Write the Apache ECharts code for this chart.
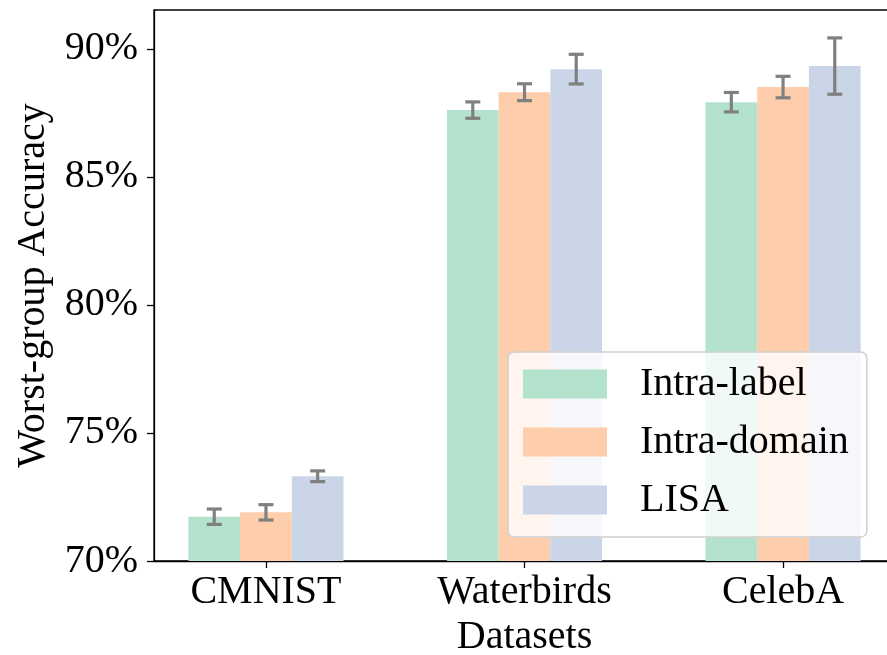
<!DOCTYPE html>
<html>
<head>
<meta charset="utf-8">
<script src="https://cdn.jsdelivr.net/npm/echarts@6/dist/echarts.min.js"></script>
<style>html,body{margin:0;padding:0;background:#fff;}#chart{width:887px;height:655px;}</style>
</head>
<body>
<div id="chart"></div>
<script>
const categories = ['CMNIST', 'Waterbirds', 'CelebA'];
const methods = ['Intra-label', 'Intra-domain', 'LISA'];
const colors = ['#b3e2cd', '#fdcdac', '#cbd5e8'];
const intraLabel = [71.73, 87.61, 87.92];
const intraLabelErr = [0.30, 0.32, 0.38];
const intraDomain = [71.90, 88.31, 88.51];
const intraDomainErr = [0.30, 0.33, 0.42];
const lisa = [73.31, 89.21, 89.33];
const lisaErr = [0.21, 0.58, 1.10];
const yTicks = [70, 75, 80, 85, 90];

const values = [intraLabel, intraDomain, lisa];
const errs = [intraLabelErr, intraDomainErr, lisaErr];
const barW = 0.2;
const offsets = [-0.2, 0, 0.2];
const FONT = "'Liberation Serif', 'Times New Roman', serif";

const series = methods.map((name, s) => ({
  name: name,
  type: 'custom',
  itemStyle: { color: colors[s] },
  data: categories.map((c, i) => [i + offsets[s], values[s][i], errs[s][i]]),
  encode: { x: 0, y: 1 },
  renderItem: function (params, api) {
    const x = api.value(0), y = api.value(1), e = api.value(2);
    const w = api.size([barW, 0])[0];
    const top = api.coord([x, y]);
    const base = api.coord([x, 70]);
    const eTop = api.coord([x, y + e]);
    const eBot = api.coord([x, y - e]);
    const cap = 7.5;
    const lineStyle = { stroke: '#808080', lineWidth: 3.2 };
    return {
      type: 'group',
      children: [
        { type: 'rect', shape: { x: top[0] - w / 2, y: top[1], width: w, height: base[1] - top[1] },
          style: { fill: colors[s] } },
        { type: 'line', shape: { x1: eTop[0], y1: eTop[1], x2: eBot[0], y2: eBot[1] }, style: lineStyle, z2: 10 },
        { type: 'line', shape: { x1: eTop[0] - cap, y1: eTop[1], x2: eTop[0] + cap, y2: eTop[1] }, style: lineStyle, z2: 10 },
        { type: 'line', shape: { x1: eBot[0] - cap, y1: eBot[1], x2: eBot[0] + cap, y2: eBot[1] }, style: lineStyle, z2: 10 }
      ]
    };
  }
}));

const chart = echarts.init(document.getElementById('chart'), null, { renderer: 'canvas' });
chart.setOption({
  animation: false,
  backgroundColor: '#fff',
  textStyle: { fontFamily: FONT },
  grid: { left: 154, right: -8, top: 10, bottom: 94, containLabel: false, outerBoundsMode: 'none',
    show: true, borderColor: '#000', borderWidth: 1.3, backgroundColor: 'transparent' },
  xAxis: {
    type: 'value', min: -0.433, max: 2.433,
    axisLine: { show: true, onZero: false, lineStyle: { color: '#000', width: 1.3 } },
    axisTick: { show: true, length: 7, lineStyle: { color: '#000', width: 1.3 }, customValues: [0, 1, 2] },
    axisLabel: { customValues: [0, 1, 2], formatter: v => categories[Math.round(v)], fontSize: 40, color: '#000', fontFamily: FONT, margin: 11 },
    splitLine: { show: false },
    name: 'Datasets', nameLocation: 'middle', nameGap: 56,
    nameTextStyle: { fontSize: 40, color: '#000', fontFamily: FONT }
  },
  yAxis: {
    type: 'value', min: 70, max: 91.52,
    axisLine: { show: true, onZero: false, lineStyle: { color: '#000', width: 1.3 } },
    axisTick: { show: true, length: 7, lineStyle: { color: '#000', width: 1.3 }, customValues: yTicks },
    axisLabel: { customValues: yTicks, formatter: v => v + '%', fontSize: 40, color: '#000', fontFamily: FONT, margin: 16 },
    splitLine: { show: false },
    name: 'Worst-group Accuracy', nameLocation: 'middle', nameGap: 96, nameRotate: 90,
    nameTextStyle: { fontSize: 40, color: '#000', fontFamily: FONT }
  },
  legend: {
    data: methods,
    orient: 'vertical',
    left: 508, top: 352,
    icon: 'rect',
    itemWidth: 84, itemHeight: 29,
    itemGap: 18,
    padding: [12, 18, 17, 15],
    backgroundColor: 'rgba(255,255,255,0.8)',
    borderColor: '#d0d0d0', borderWidth: 1.5, borderRadius: 6,
    textStyle: { fontSize: 40, color: '#000', fontFamily: FONT, padding: [0, 0, 0, 28] },
    selectedMode: false
  },
  series: series
});
</script>
</body>
</html>
